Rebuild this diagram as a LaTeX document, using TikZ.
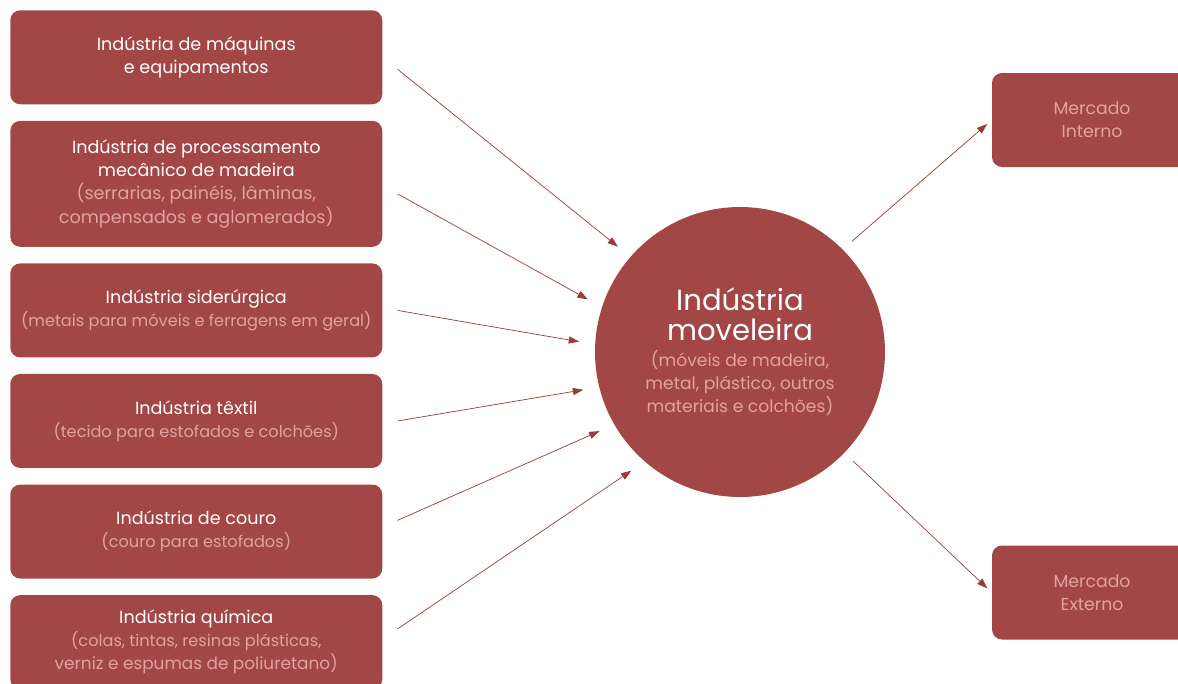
\documentclass[tikz,border=0pt]{standalone}
\usepackage{fontspec}
\setmainfont{Poppins}
\usetikzlibrary{positioning,arrows.meta}
\definecolor{vinho}{HTML}{A24646}
\definecolor{rosa}{HTML}{E2A2A0}
\definecolor{setacor}{HTML}{9A3A3A}
\newcommand{\legenda}[2][11.5]{{\color{rosa}\fontsize{#1}{16.5}\selectfont #2}}

\begin{document}
\begin{tikzpicture}[node distance=0.4cm,
  caixa/.style={rectangle,rounded corners=0.25cm,fill=vinho,text=white,align=center,minimum width=9.3cm,minimum height=2.35cm,inner sep=0pt,font=\fontsize{12.5}{16.5}\selectfont},
  mercado/.style={caixa,minimum width=5cm,text=rosa,font=\fontsize{12.3}{16.5}\selectfont},
  seta/.style={draw=setacor,line width=0.5pt,-{Triangle[length=2.6mm,width=1.8mm]},shorten >=0.4cm}]
\useasboundingbox (0,0) rectangle (29.45,-17.075);
		\node[caixa,anchor=north west] (1) at (0.25,-0.25) {Indústria de máquinas\\e equipamentos};
		\node[caixa,below = of 1,minimum height=3.15cm] (2) {Indústria de processamento\\mecânico de madeira\\\legenda[12.5]{(serrarias, painéis, lâminas,}\\\legenda[12.5]{compensados e aglomerados)}};
		\node[caixa,below = of 2] (3) {Indústria siderúrgica\\\legenda{(metais para móveis e ferragens em geral)}};
		\node[caixa,below = of 3] (4) {Indústria têxtil\\\legenda{(tecido para estofados e colchões)}};
		\node[caixa,below = of 4] (5) {Indústria de couro\\\legenda{(couro para estofados)}};
		\node[caixa,below = of 5] (6) {Indústria química\\\legenda{(colas, tintas, resinas plásticas,}\\\legenda[12]{verniz e espumas de poliuretano)}};
		\node[circle,fill=vinho,text=white,align=center,minimum size=7.25cm,inner sep=0pt,font=\fontsize{12.2}{16.5}\selectfont] (7) at (18.5,-8.8) {{\fontsize{20.7}{16.5}\selectfont Indústria}\\[4.8pt]{\fontsize{20.7}{16.5}\selectfont moveleira}\\[1.9pt]\legenda[12.2]{(móveis de madeira,}\\\legenda[12.2]{metal, plástico, outros}\\\legenda[12.2]{materiais e colchões)}};
		\node[mercado] (8) at (27.3,-3.0) {Mercado\\Interno};
		\node[mercado] (9) at (27.3,-14.8125) {Mercado\\Externo};

		\draw[seta] ([xshift=0.375cm,yshift=-0.3cm]1.east) -- (7.139);
		\draw[seta] ([xshift=0.375cm,yshift=-0.25cm]2.east) -- (7.162);
		\draw[seta] ([xshift=0.375cm]3.east) -- (7.177);
		\draw[seta] ([xshift=0.375cm]4.east) -- (7.194);
		\draw[seta] ([xshift=0.375cm,yshift=0.28cm]5.east) -- (7.210);
		\draw[seta] ([xshift=0.375cm,yshift=0.33cm]6.east) -- (7.229);
		\draw[seta,shorten <=0.3cm,shorten >=0.15cm] (7.45) -- (8.west);
		\draw[seta,shorten <=0.3cm,shorten >=0.15cm] (7.-44) -- (9.west);
	\end{tikzpicture}
\end{document}
